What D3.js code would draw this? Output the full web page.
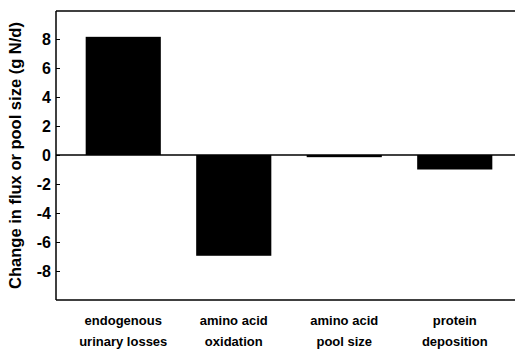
<!DOCTYPE html>
<html>
<head>
<meta charset="utf-8">
<script src="https://cdn.jsdelivr.net/npm/d3@7"></script>
<style>
  body { margin: 0; background: #fff; }
  text { font-family: "Liberation Sans", Arial, sans-serif; font-weight: bold; fill: #000; }
</style>
</head>
<body>
<script>
var w = 515;
var h = 353;

var categories = ["endogenous|urinary losses", "amino acid|oxidation", "amino acid|pool size", "protein|deposition"];
var values = [8.15, -6.95, -0.15, -1.0];
var yTicks = [8, 6, 4, 2, 0, -2, -4, -6, -8];

var plotLeft = 56, plotRight = 515, plotTop = 11, plotBottom = 300;

var xScale = d3.scaleBand()
	.domain(d3.range(categories.length))
	.range([68, 510])
	.paddingInner(0.32)
	.paddingOuter(0.16);

var yScale = d3.scaleLinear()
	.domain([-10, 10])
	.range([plotBottom, plotTop - 1]);

var svg = d3.select("body")
	.append("svg")
	.attr("width", w)
	.attr("height", h);

// bars
svg.selectAll("rect.bar")
	.data(values)
	.enter()
	.append("rect")
	.attr("class", "bar")
	.attr("x", function(d, i) { return xScale(i); })
	.attr("y", function(d) { return yScale(Math.max(0, d)); })
	.attr("width", xScale.bandwidth())
	.attr("height", function(d) { return Math.abs(yScale(d) - yScale(0)); })
	.attr("fill", "#000");

// y axis with inward ticks, plain hyphen for minus
var yAxis = d3.axisLeft(yScale)
	.tickValues(yTicks)
	.tickSize(-4)
	.tickPadding(5)
	.tickFormat(function(d) { return String(d); });

var gy = svg.append("g")
	.attr("transform", "translate(" + plotLeft + ",0)")
	.call(yAxis);
gy.select(".domain").remove();
gy.selectAll(".tick line").attr("stroke", "#000").attr("stroke-width", 1);
gy.selectAll(".tick text").style("font-size", "16px").style("font-family", "Liberation Sans, Arial, sans-serif");

// frame lines
svg.append("line").attr("x1", plotLeft).attr("x2", plotLeft).attr("y1", plotTop).attr("y2", plotBottom)
	.attr("stroke", "#000").attr("stroke-width", 1.5);
svg.append("line").attr("x1", plotLeft).attr("x2", plotRight).attr("y1", plotTop).attr("y2", plotTop)
	.attr("stroke", "#000").attr("stroke-width", 1.5);
svg.append("line").attr("x1", plotLeft).attr("x2", plotRight).attr("y1", plotBottom).attr("y2", plotBottom)
	.attr("stroke", "#000").attr("stroke-width", 1.5);
svg.append("line").attr("x1", plotLeft).attr("x2", plotRight).attr("y1", yScale(0)).attr("y2", yScale(0))
	.attr("stroke", "#000").attr("stroke-width", 1.5);

// category labels
var labels = svg.selectAll("text.cat")
	.data(categories)
	.enter()
	.append("text")
	.attr("class", "cat")
	.attr("text-anchor", "middle")
	.style("font-size", "13px")
	.attr("x", function(d, i) { return xScale(i) + xScale.bandwidth() / 2; })
	.attr("y", 325);
labels.each(function(d) {
	var parts = d.split("|");
	var t = d3.select(this);
	t.append("tspan").attr("x", t.attr("x")).text(parts[0]);
	t.append("tspan").attr("x", t.attr("x")).attr("dy", 21).text(parts[1]);
});

// y title
svg.append("text")
	.attr("transform", "translate(21," + (plotTop + plotBottom) / 2 + ") rotate(-90)")
	.attr("text-anchor", "middle")
	.style("font-size", "16.5px")
	.text("Change in flux or pool size (g N/d)");
</script>
</body>
</html>
